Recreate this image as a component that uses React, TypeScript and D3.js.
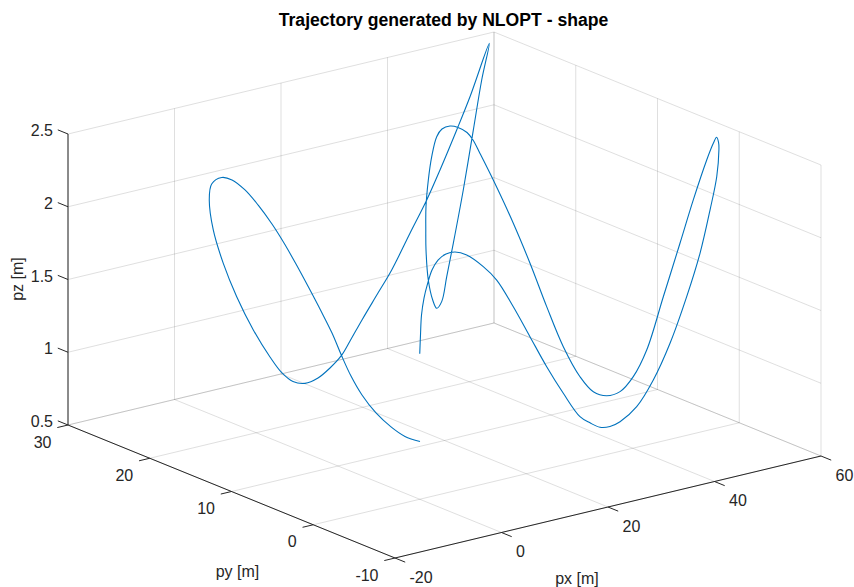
import React from 'react';
import * as d3 from 'd3';

// Axis ticks
const pxTicks = [-20, 0, 20, 40, 60];
const pyTicks = [-10, 0, 10, 20, 30];
const pzTicks = [0.5, 1, 1.5, 2, 2.5];

// Trajectory samples (px, py, pz) in metres
const pxVals = [
  0, 0.14, 0.33, 0.8, 1.46, 2.3, 3.43, 4.93, 6.62, 8.82,
  11.93, 14.45, 17.57, 20.7, 23.84, 26.96, 30.09, 31.97, 33.85, 35.73,
  37.61, 40.74, 43.86, 47.0, 50.13, 52.63, 54.51, 55.77, 56.18, 56.12, 55.75,
  55.13, 53.89, 51.37, 48.87, 45.74, 42.62, 40.1, 37.61, 35.11, 34.13,
  33.16, 33.1, 33.05, 32.99, 32.92, 32.23, 32.81, 33.03, 33.44, 34.82, 36.38,
  34.88, 33.89, 32.95, 33.85, 33.41, 34.91, 34.95, 35.38, 36.21, 36.96,
  39.43, 41.91, 44.68, 48.09, 51.51, 54.62, 57.58,
  52.42, 48.39, 43.72, 39.69, 35.01, 30.04, 25.93, 21.39, 17.61, 16.01,
  12.31, 10.06, 6.08, 3.83, 1.77,
  -0.49, -3.62, -6.74, -9.26, -11.14, -11.89, -11.44, -9.56,
  -7.62, -6.72, -5.81, -4.72, -4.0, -3.28, -2.38, -3.19, -2.66, -2.41,
  -3.7, -3.17, -3.61, -3.86, -4.31, -4.56,
];
const pyVals = [
  0, 0, 0, 0, 0, 0, 0, 0, 0, 0,
  0, 0, 0, 0, 0, 0, 0, 0, 0, 0,
  0, 0, 0, 0, 0, 0, 0, 0, 0, 0, 0,
  0, 0, 0, 0, 0, 0, 0, 0, 0, 1,
  2, 4, 6, 8, 10, 12, 14, 15, 16, 18, 20,
  20, 20, 20, 21, 21, 22, 22, 22, 22, 22,
  23, 24, 25, 26, 27, 28, 29,
  28, 27, 26, 25, 24, 23, 22, 21, 20, 20,
  19, 19, 18, 18, 18,
  18, 18, 18, 18, 18, 18, 18, 18,
  18, 17, 16, 15, 14, 13, 12, 10, 9, 8,
  6, 5, 3, 1, -1, -3,
];
const pzVals = [
  1.5, 1.628, 1.763, 1.876, 1.967, 2.055, 2.114, 2.142, 2.141, 2.101,
  1.994, 1.88, 1.669, 1.436, 1.202, 0.992, 0.804, 0.745, 0.698, 0.687,
  0.703, 0.779, 0.935, 1.16, 1.453, 1.729, 2.01, 2.228, 2.408, 2.46, 2.499,
  2.463, 2.359, 2.107, 1.831, 1.491, 1.152, 0.991, 0.91, 0.904, 0.917,
  1.006, 1.167, 1.397, 1.65, 1.88, 2.137, 2.269, 2.337, 2.362, 2.339, 2.289,
  2.282, 2.238, 2.109, 1.918, 1.738, 1.542, 1.404, 1.194, 1.049, 0.986,
  0.987, 1.114, 1.296, 1.61, 1.969, 2.263, 2.466,
  2.167, 1.997, 1.786, 1.638, 1.473, 1.287, 1.187, 1.065, 0.976, 0.891,
  0.86, 0.811, 0.832, 0.864, 0.941,
  1.071, 1.284, 1.54, 1.791, 2.037, 2.25, 2.356, 2.384,
  2.35, 2.296, 2.208, 2.09, 1.976, 1.848, 1.698, 1.593, 1.46, 1.326,
  1.242, 1.13, 1.056, 1.008, 0.992, 1.005,
];

const titleText = 'Trajectory generated by NLOPT - shape';
const xLabel = 'px [m]';
const yLabel = 'py [m]';
const zLabel = 'pz [m]';

// Layout of the projected box (screen pixels)
const W = 854;
const H = 587;
const ORIGIN: [number, number] = [395, 558];
const VX: [number, number] = [426, -102];
const VY: [number, number] = [-327, -133];
const VZ: [number, number] = [0, -291];
const TICK = 11;
const FONT = '"Liberation Sans", Arial, Helvetica, sans-serif';
const AXIS_COLOR = '#262626';

export default function App() {
  const sx = d3.scaleLinear().domain([-20, 60]).range([0, 1]);
  const sy = d3.scaleLinear().domain([-10, 30]).range([0, 1]);
  const sz = d3.scaleLinear().domain([0.5, 2.5]).range([0, 1]);
  const [x0, x1] = sx.domain();
  const [y0, y1] = sy.domain();
  const [z0, z1] = sz.domain();

  const P = (x: number, y: number, z: number): [number, number] => {
    const u = sx(x), v = sy(y), w = sz(z);
    return [
      ORIGIN[0] + u * VX[0] + v * VY[0] + w * VZ[0],
      ORIGIN[1] + u * VX[1] + v * VY[1] + w * VZ[1],
    ];
  };

  const norm = (v: [number, number]): [number, number] => {
    const l = Math.hypot(v[0], v[1]);
    return [v[0] / l, v[1] / l];
  };
  const dX = norm(VX);
  const dY = norm(VY);

  type Seg = [[number, number, number], [number, number, number]];
  const grid: Seg[] = [];
  // floor
  pxTicks.forEach((t) => grid.push([[t, y0, z0], [t, y1, z0]]));
  pyTicks.forEach((t) => grid.push([[x0, t, z0], [x1, t, z0]]));
  // back wall (py = max)
  pxTicks.forEach((t) => grid.push([[t, y1, z0], [t, y1, z1]]));
  pzTicks.forEach((t) => grid.push([[x0, y1, t], [x1, y1, t]]));
  // side wall (px = max)
  pyTicks.forEach((t) => grid.push([[x1, t, z0], [x1, t, z1]]));
  pzTicks.forEach((t) => grid.push([[x1, y0, t], [x1, y1, t]]));

  const pts = pxVals.map((v, i) => P(v, pyVals[i], pzVals[i]));
  const line = d3.line<[number, number]>().curve(d3.curveCatmullRom.alpha(0.5));

  const A = P(x0, y1, z0);
  const B = P(x0, y0, z0);
  const C = P(x1, y0, z0);
  const Atop = P(x0, y1, z1);

  return (
    <svg width={W} height={H} style={{ position: 'absolute', left: 0, top: 0, background: '#fff' }}>
      <rect x={0} y={0} width={W} height={H} fill="#fff" />
      <g>
        {grid.map((s, i) => {
          const a = P(...s[0]);
          const b = P(...s[1]);
          return (
            <line key={i} x1={a[0]} y1={a[1]} x2={b[0]} y2={b[1]}
              stroke={AXIS_COLOR} strokeOpacity={0.15} strokeWidth={1} />
          );
        })}
      </g>
      <g stroke={AXIS_COLOR} strokeWidth={1}>
        <line x1={B[0]} y1={B[1]} x2={C[0]} y2={C[1]} />
        <line x1={B[0]} y1={B[1]} x2={A[0]} y2={A[1]} />
        <line x1={A[0]} y1={A[1]} x2={Atop[0]} y2={Atop[1]} />
        {pxTicks.map((t) => {
          const p = P(t, y0, z0);
          return <line key={'tx' + t} x1={p[0]} y1={p[1]} x2={p[0] - dY[0] * TICK} y2={p[1] - dY[1] * TICK} />;
        })}
        {pyTicks.map((t) => {
          const p = P(x0, t, z0);
          return <line key={'ty' + t} x1={p[0]} y1={p[1]} x2={p[0] - dX[0] * TICK} y2={p[1] - dX[1] * TICK} />;
        })}
        {pzTicks.map((t) => {
          const p = P(x0, y1, t);
          return <line key={'tz' + t} x1={p[0]} y1={p[1]} x2={p[0] + dY[0] * TICK} y2={p[1] + dY[1] * TICK} />;
        })}
      </g>
      <g fontFamily={FONT} fontSize={16} fill={AXIS_COLOR}>
        {pxTicks.map((t) => {
          const p = P(t, y0, z0);
          return (
            <text key={'lx' + t} x={p[0] + 14.5} y={p[1] + 19} textAnchor="start" dominantBaseline="central">{t}</text>
          );
        })}
        {pyTicks.map((t) => {
          const p = P(x0, t, z0);
          return (
            <text key={'ly' + t} x={p[0] - 16.5} y={p[1] + 17} textAnchor="end" dominantBaseline="central">{t}</text>
          );
        })}
        {pzTicks.map((t) => {
          const p = P(x0, y1, t);
          return (
            <text key={'lz' + t} x={p[0] - 15} y={p[1] - 3.5} textAnchor="end" dominantBaseline="central">{t}</text>
          );
        })}
        <text x={577} y={578} textAnchor="middle" dominantBaseline="central">{xLabel}</text>
        <text x={237.5} y={571} textAnchor="middle" dominantBaseline="central">{yLabel}</text>
        <text x={0} y={0} transform="translate(17.5,279) rotate(-90)" textAnchor="middle" dominantBaseline="central">{zLabel}</text>
      </g>
      <text x={443.5} y={20} textAnchor="middle" dominantBaseline="central" fontFamily={FONT}
        fontSize={17.6} fontWeight="bold" fill="#000">{titleText}</text>
      <path d={line(pts) || ''} fill="none" stroke="#0072BD" strokeWidth={1.1} strokeLinejoin="round" />
    </svg>
  );
}
